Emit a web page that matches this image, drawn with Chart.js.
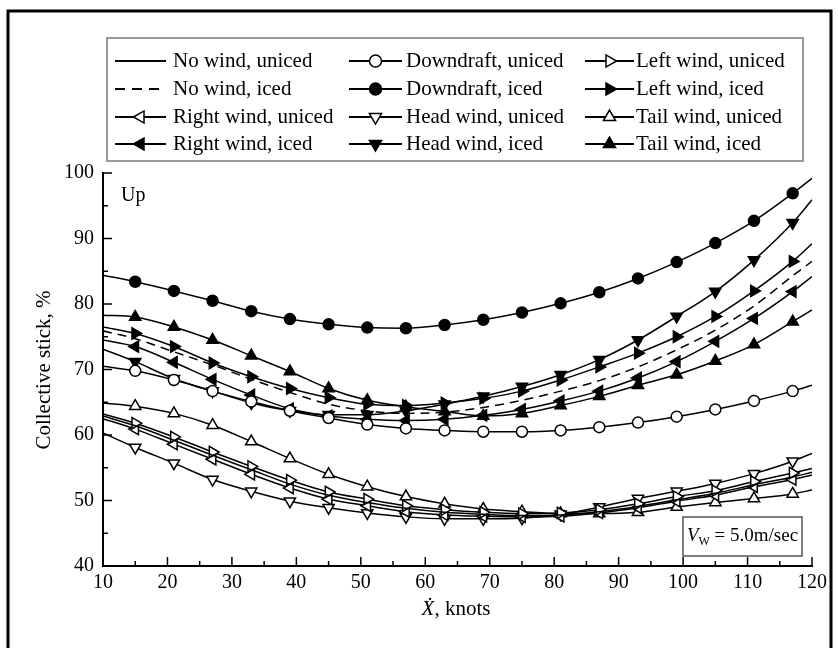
<!DOCTYPE html>
<html><head><meta charset="utf-8">
<script src="https://cdn.jsdelivr.net/npm/chart.js@4"></script>
<style>html,body{margin:0;padding:0;background:#fff;}canvas{display:block}</style>
</head><body>
<canvas id="c" width="838" height="648"></canvas>
<script>
// ---- data ----
const xKnots = [10,15,21,27,33,39,45,51,57,63,69,75,81,87,93,99,105,111,117,120];
const noWindUniced     = [62.9,61.4,59.2,56.9,54.7,52.5,50.8,49.7,48.8,48.2,47.9,47.7,47.8,48.3,49.1,50.1,51.1,52.4,53.6,54.3];
const noWindIced       = [75.9,74.7,72.7,70.7,68.5,66.5,64.7,63.7,63.3,63.5,64.2,65.3,66.7,68.3,70.4,73.0,76.0,79.7,84.3,86.5];
const downdraftUniced  = [70.5,69.8,68.4,66.7,65.1,63.7,62.6,61.6,61.0,60.7,60.5,60.5,60.7,61.2,61.9,62.8,63.9,65.2,66.7,67.6];
const downdraftIced    = [84.4,83.4,82.0,80.5,78.9,77.7,76.9,76.4,76.3,76.8,77.6,78.7,80.1,81.8,83.9,86.4,89.3,92.7,96.9,99.2];
const leftWindUniced   = [63.2,61.8,59.7,57.4,55.2,53.1,51.3,50.2,49.2,48.6,48.2,48.0,48.1,48.6,49.5,50.6,51.5,52.9,54.2,54.9];
const leftWindIced     = [76.5,75.5,73.5,71.0,68.9,67.1,65.7,64.7,64.5,64.9,65.6,66.7,68.4,70.4,72.5,75.0,78.1,82.0,86.5,89.2];
const rightWindUniced  = [62.5,60.9,58.6,56.3,54.0,51.9,50.2,49.2,48.3,47.8,47.6,47.5,47.6,48.1,48.9,49.9,50.8,52.1,53.2,53.9];
const rightWindIced    = [74.5,73.5,71.1,68.5,66.1,64.0,62.9,62.4,62.2,62.4,63.0,63.9,65.2,66.7,68.7,71.2,74.3,77.8,81.9,84.2];
const headWindUniced   = [60.3,58.1,55.7,53.2,51.4,49.9,48.9,48.1,47.5,47.2,47.2,47.3,47.9,49.0,50.3,51.4,52.6,54.1,56.0,57.2];
const headWindIced     = [73.1,71.2,68.6,66.7,64.9,63.7,63.1,63.1,63.7,64.7,65.9,67.4,69.2,71.5,74.5,78.1,81.9,86.7,92.4,95.9];
const tailWindUniced   = [64.9,64.4,63.3,61.5,59.0,56.4,54.0,52.1,50.6,49.5,48.7,48.3,48.0,48.0,48.2,49.0,49.7,50.3,51.0,51.6];
const tailWindIced     = [78.3,78.0,76.5,74.5,72.1,69.7,67.1,65.3,64.3,63.6,62.9,63.3,64.5,65.9,67.6,69.2,71.3,73.8,77.3,79.1];

const seriesLabels = ['No wind, uniced','No wind, iced','Downdraft, uniced','Downdraft, iced',
  'Left wind, uniced','Left wind, iced','Right wind, uniced','Right wind, iced',
  'Head wind, uniced','Head wind, iced','Tail wind, uniced','Tail wind, iced'];
const seriesValues = [noWindUniced,noWindIced,downdraftUniced,downdraftIced,leftWindUniced,leftWindIced,
  rightWindUniced,rightWindIced,headWindUniced,headWindIced,tailWindUniced,tailWindIced];
const xTickValues = [10,20,30,40,50,60,70,80,90,100,110,120];
const yTickValues = [40,50,60,70,80,90,100];
const xAxisTitleSymbol = 'Ẋ';
const xAxisTitleRest = ', knots';
const yAxisTitle = 'Collective stick, %';
const cornerNote = 'Up';
const windNoteSymbol = 'V', windNoteSub = 'W', windNoteRest = ' = 5.0m/sec';

// ---- styles ----
const FONT = "'Liberation Serif','Times New Roman','DejaVu Serif',serif";
const styleFor = {
  'No wind, uniced':   {marker:null, dash:[]},
  'No wind, iced':     {marker:null, dash:[9,6]},
  'Downdraft, uniced': {marker:'circle', rot:0, fill:false, r:5.5},
  'Downdraft, iced':   {marker:'circle', rot:0, fill:true, r:5.5},
  'Left wind, uniced': {marker:'triangle', rot:90, fill:false, r:6.5},
  'Left wind, iced':   {marker:'triangle', rot:90, fill:true, r:6.5},
  'Right wind, uniced':{marker:'triangle', rot:270, fill:false, r:6.5},
  'Right wind, iced':  {marker:'triangle', rot:270, fill:true, r:6.5},
  'Head wind, uniced': {marker:'triangle', rot:180, fill:false, r:6.5},
  'Head wind, iced':   {marker:'triangle', rot:180, fill:true, r:6.5},
  'Tail wind, uniced': {marker:'triangle', rot:0, fill:false, r:6.5},
  'Tail wind, iced':   {marker:'triangle', rot:0, fill:true, r:6.5}
};
const legendColumns = [
  ['No wind, uniced','No wind, iced','Right wind, uniced','Right wind, iced'],
  ['Downdraft, uniced','Downdraft, iced','Head wind, uniced','Head wind, iced'],
  ['Left wind, uniced','Left wind, iced','Tail wind, uniced','Tail wind, iced']
];

const datasets = seriesLabels.map((lab, k) => {
  const st = styleFor[lab];
  const last = xKnots.length - 1;
  return {
    label: lab,
    data: xKnots.map((x, i) => ({x: x, y: seriesValues[k][i]})),
    borderColor: '#000',
    borderWidth: 1.5,
    borderDash: st.dash || [],
    cubicInterpolationMode: 'monotone',
    fill: false,
    pointStyle: st.marker || 'circle',
    pointRotation: st.rot || 0,
    pointRadius: (ctx) => (st.marker && ctx.dataIndex > 0 && ctx.dataIndex < last) ? st.r : 0,
    pointHoverRadius: 0,
    pointBorderWidth: 1.5,
    pointBorderColor: '#000',
    pointBackgroundColor: st.fill ? '#000' : '#fff'
  };
});

const decorPlugin = {
  id: 'decor',
  afterDraw(chart) {
    const ctx = chart.ctx;
    const xs = chart.scales.x, ys = chart.scales.y;
    const area = chart.chartArea;
    ctx.save();
    // inward ticks
    ctx.strokeStyle = '#000'; ctx.lineWidth = 1.5;
    for (let v = 10; v <= 120; v += 5) {
      const px = xs.getPixelForValue(v);
      const len = (v % 10 === 0) ? 9 : 5;
      ctx.beginPath(); ctx.moveTo(px, area.bottom); ctx.lineTo(px, area.bottom - len); ctx.stroke();
    }
    for (let v = 40; v <= 100; v += 5) {
      const py = ys.getPixelForValue(v);
      const len = (v % 10 === 0) ? 9 : 5;
      ctx.beginPath(); ctx.moveTo(area.left, py); ctx.lineTo(area.left + len, py); ctx.stroke();
    }
    // outer frame
    ctx.lineWidth = 3;
    ctx.beginPath();
    ctx.moveTo(8, 660); ctx.lineTo(8, 11); ctx.lineTo(831, 11); ctx.lineTo(831, 660);
    ctx.stroke();
    // legend box
    ctx.lineWidth = 2; ctx.strokeStyle = '#999';
    ctx.strokeRect(107, 38, 696, 123);
    const colLineX = [[115,166],[349,402],[585,634]];
    const colTextX = [173, 406, 636];
    const rowY = [61, 89, 117, 144];
    ctx.font = '21px ' + FONT;
    ctx.textBaseline = 'middle'; ctx.textAlign = 'left';
    legendColumns.forEach((col, ci) => {
      col.forEach((lab, ri) => {
        const st = styleFor[lab];
        const y = rowY[ri];
        ctx.strokeStyle = '#000'; ctx.lineWidth = 1.8;
        ctx.setLineDash(st.dash && st.dash.length ? [10, 7] : []);
        ctx.beginPath(); ctx.moveTo(colLineX[ci][0], y); ctx.lineTo(colLineX[ci][1], y); ctx.stroke();
        ctx.setLineDash([]);
        if (st.marker) {
          ctx.fillStyle = st.fill ? '#000' : '#fff';
          ctx.strokeStyle = '#000'; ctx.lineWidth = 1.5;
          Chart.helpers.drawPoint(ctx, {pointStyle: st.marker, rotation: st.rot, radius: st.r + 0.5, borderWidth: 1.5},
            (colLineX[ci][0] + colLineX[ci][1]) / 2, y);
        }
        ctx.fillStyle = '#000';
        ctx.fillText(lab, colTextX[ci], y);
      });
    });
    // corner note
    ctx.font = '20px ' + FONT; ctx.fillStyle = '#000';
    ctx.fillText(cornerNote, 121, 196);
    // wind note box
    ctx.strokeStyle = '#555'; ctx.lineWidth = 1.5;
    ctx.strokeRect(683, 517, 119, 39);
    ctx.font = 'italic 19px ' + FONT;
    const wa = ctx.measureText(windNoteSymbol).width;
    ctx.font = '12px ' + FONT;
    const wb = ctx.measureText(windNoteSub).width;
    ctx.font = '19px ' + FONT;
    const wc = ctx.measureText(windNoteRest).width;
    let tx = 742.5 - (wa + wb + wc) / 2; const ty = 536;
    ctx.font = 'italic 19px ' + FONT; ctx.fillText(windNoteSymbol, tx, ty);
    tx += wa;
    ctx.font = '12px ' + FONT; ctx.fillText(windNoteSub, tx, ty + 6);
    tx += wb;
    ctx.font = '19px ' + FONT; ctx.fillText(windNoteRest, tx, ty);
    // x axis title
    ctx.font = 'italic 21px ' + FONT;
    const w1 = ctx.measureText(xAxisTitleSymbol).width;
    ctx.font = '21px ' + FONT;
    const w2 = ctx.measureText(xAxisTitleRest).width;
    let sx = 456 - (w1 + w2) / 2;
    ctx.font = 'italic 21px ' + FONT; ctx.fillText(xAxisTitleSymbol, sx, 609);
    ctx.font = '21px ' + FONT; ctx.fillText(xAxisTitleRest, sx + w1, 609);
    // y axis title
    ctx.save();
    ctx.translate(44, 370); ctx.rotate(-Math.PI / 2);
    ctx.textAlign = 'center'; ctx.font = '21px ' + FONT;
    ctx.fillText(yAxisTitle, 0, 0);
    ctx.restore();
    ctx.restore();
  }
};

new Chart(document.getElementById('c'), {
  type: 'line',
  data: {datasets},
  options: {
    responsive: false, animation: false, devicePixelRatio: 1,
    layout: {padding: {left: 0, top: 173, right: 26, bottom: 0}},
    plugins: {legend: {display: false}, tooltip: {enabled: false}},
    scales: {
      x: {
        type: 'linear', min: 10, max: 120,
        afterBuildTicks: (s) => { s.ticks = xTickValues.map(v => ({value: v})); },
        afterFit: (s) => { s.height = 82; },
        ticks: {color: '#000', font: {family: FONT, size: 20}, padding: 5, maxRotation: 0, autoSkip: false},
        grid: {display: false, drawTicks: false},
        border: {display: true, color: '#000', width: 2}
      },
      y: {
        type: 'linear', min: 40, max: 100,
        afterBuildTicks: (s) => { s.ticks = yTickValues.map(v => ({value: v})); },
        afterFit: (s) => { s.width = 103; },
        ticks: {color: '#000', font: {family: FONT, size: 20}, padding: 9},
        grid: {display: false, drawTicks: false},
        border: {display: true, color: '#000', width: 2}
      }
    }
  },
  plugins: [decorPlugin]
});
</script>
</body></html>
